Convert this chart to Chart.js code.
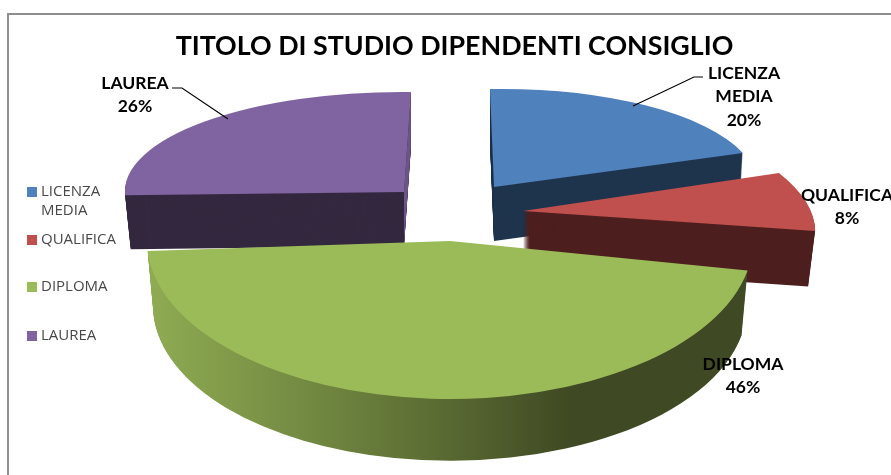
<!DOCTYPE html>
<html>
<head>
<meta charset="utf-8">
<title>Titolo di studio dipendenti consiglio</title>
<script src="https://cdn.jsdelivr.net/npm/chart.js@4"></script>
<style>
    html, body { margin: 0; padding: 0; background: #fff; }
    #wrap { position: relative; width: 891px; height: 475px; }
</style>
</head>
<body>
<div id="wrap"><canvas id="pie"></canvas></div>
<script>
const chartTitle = 'TITOLO DI STUDIO DIPENDENTI CONSIGLIO';
const categories = [['LICENZA', 'MEDIA'], 'QUALIFICA', 'DIPLOMA', 'LAUREA'];
const percentages = [20, 8, 46, 26];

const topColors = ['#4F81BD', '#C0504D', '#9BBB59', '#8064A2'];
const sideColors = ['#1F344D', '#4E1F1F', null, '#33283F'];
const cutFaceColors = [null, null, null, '#6B5488'];

// Come appare ogni fetta: punta, asse x, asse y, spessore e restringimento del lato
const sliceViews = [
    { at: [494, 187], u: [263, -4], v: [4, 98], depth: 54, shrink: 0.012 },
    { at: [523, 211], u: [287, -2], v: [55, 117], depth: 56, shrink: 0.024 },
    { at: [450, 241], u: [303, 0], v: [0, 158], depth: 65, shrink: 0.02 },
    { at: [404, 192], u: [279, 3], v: [-7, 100], depth: 54, shrink: 0.02 }
];
const drawOrder = [3, 0, 1, 2];

const legendRows = [192, 240, 287, 336];
const labelSpots = [[744, 72], [847, 194], [743, 363], [135, 82]];
const leaders = [
    [[703, 77], [694, 77], [633, 106]],
    null,
    null,
    [[172, 88], [182, 88], [228, 119]]
];

const asLines = c => Array.isArray(c) ? c : [c];

function wedgePath(ctx, el, view, step) {
    const k = 1 - view.shrink * step;
    ctx.save();
    ctx.translate(view.at[0], view.at[1] + view.depth * step);
    ctx.transform(view.u[0] * k, view.u[1] * k, view.v[0] * k, view.v[1] * k, 0, 0);
    ctx.beginPath();
    ctx.moveTo(0, 0);
    ctx.arc(0, 0, 1, el.startAngle, el.endAngle);
    ctx.closePath();
    ctx.restore();
}

// punto del bordo all'angolo a, a una data profondità
function rimPoint(view, a, step, radius) {
    const k = (1 - view.shrink * step) * radius;
    const c = Math.cos(a) * k, s = Math.sin(a) * k;
    return [
        view.at[0] + view.u[0] * c + view.v[0] * s,
        view.at[1] + view.depth * step + view.u[1] * c + view.v[1] * s
    ];
}

function cutFace(ctx, el, view) {
    const pts = [
        rimPoint(view, el.endAngle, 0, 0),
        rimPoint(view, el.endAngle, 0, 1),
        rimPoint(view, el.endAngle, 1, 1),
        rimPoint(view, el.endAngle, 1, 0)
    ];
    ctx.beginPath();
    pts.forEach((p, j) => j ? ctx.lineTo(p[0], p[1]) : ctx.moveTo(p[0], p[1]));
    ctx.closePath();
    ctx.fill();
}

const pie3d = {
    id: 'pie3d',
    beforeDraw(chart) {
        // cornice: solo lato alto e sinistro
        const ctx = chart.ctx;
        ctx.save();
        ctx.strokeStyle = '#8E8E8E';
        ctx.lineWidth = 2;
        ctx.beginPath();
        ctx.moveTo(8, chart.height);
        ctx.lineTo(8, 14);
        ctx.lineTo(chart.width, 14);
        ctx.stroke();
        ctx.restore();
    },
    beforeDatasetDraw(chart) {
        const ctx = chart.ctx;
        const arcs = chart.getDatasetMeta(0).data;

        const greenSide = ctx.createLinearGradient(150, 0, 570, 0);
        greenSide.addColorStop(0, '#8FAB52');
        greenSide.addColorStop(0.35, '#748C43');
        greenSide.addColorStop(0.72, '#586831');
        greenSide.addColorStop(1, '#3F4923');

        drawOrder.forEach(i => {
            const el = arcs[i];
            const view = sliceViews[i];
            ctx.save();
            ctx.fillStyle = sideColors[i] || greenSide;
            for (let n = view.depth; n > 0; n--) {
                wedgePath(ctx, el, view, n / view.depth);
                ctx.fill();
            }
            if (cutFaceColors[i]) {
                ctx.fillStyle = cutFaceColors[i];
                cutFace(ctx, el, view);
            }
            ctx.restore();

            // faccia superiore: l'arco di Chart.js, schiacciato
            const r = el.outerRadius;
            ctx.save();
            ctx.translate(view.at[0], view.at[1]);
            ctx.transform(view.u[0] / r, view.u[1] / r, view.v[0] / r, view.v[1] / r, 0, 0);
            ctx.translate(-el.x, -el.y);
            el.draw(ctx);
            ctx.restore();
        });
        return false;
    },
    afterDraw(chart) {
        const ctx = chart.ctx;
        ctx.save();

        // legenda
        ctx.font = '15px "Open Sans"';
        ctx.textBaseline = 'middle';
        ctx.textAlign = 'left';
        categories.forEach((cat, i) => {
            ctx.fillStyle = topColors[i];
            ctx.fillRect(27, legendRows[i] - 5, 10, 10);
            ctx.fillStyle = '#484848';
            asLines(cat).forEach((line, j) => ctx.fillText(line, 41, legendRows[i] + j * 19));
        });

        // linee guida
        ctx.strokeStyle = '#000';
        ctx.lineWidth = 1.2;
        leaders.forEach(pts => {
            if (!pts) return;
            ctx.beginPath();
            pts.forEach((p, j) => j ? ctx.lineTo(p[0], p[1]) : ctx.moveTo(p[0], p[1]));
            ctx.stroke();
        });

        // etichette
        ctx.font = 'bold 17.5px Lato';
        ctx.fillStyle = '#000';
        ctx.textAlign = 'center';
        categories.forEach((cat, i) => {
            const lines = asLines(cat).concat(percentages[i] + '%');
            lines.forEach((line, j) => ctx.fillText(line, labelSpots[i][0], labelSpots[i][1] + 1 + j * 23.7));
        });
        ctx.restore();
    }
};

new Chart(document.getElementById('pie'), {
    type: 'pie',
    data: {
        labels: categories,
        datasets: [{
            data: percentages,
            backgroundColor: topColors,
            borderWidth: 0
        }]
    },
    options: {
        responsive: true,
        maintainAspectRatio: false,
        animation: false,
        layout: { padding: { left: 18 } },
        plugins: {
            legend: { display: false },
            tooltip: { enabled: false },
            title: {
                display: true,
                text: chartTitle,
                color: '#000',
                font: { family: 'Lato', size: 26.8, weight: 'bold' },
                padding: { top: 30, bottom: 8 }
            }
        }
    },
    plugins: [pie3d]
});
</script>
</body>
</html>
